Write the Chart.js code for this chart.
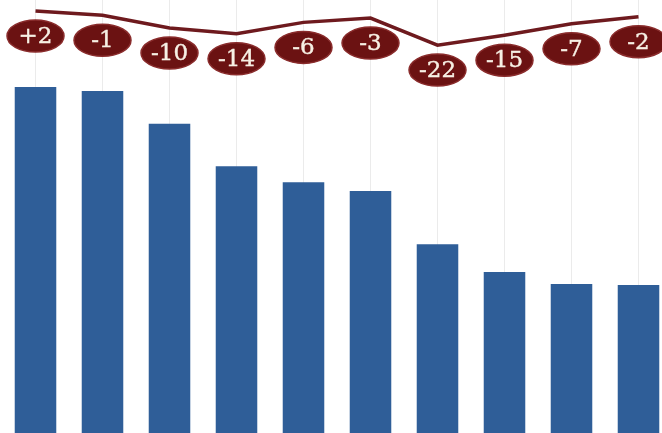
<!DOCTYPE html>
<html>
<head>
<meta charset="utf-8">
<script src="https://cdn.jsdelivr.net/npm/chart.js@4"></script>
<style>
  html, body { margin: 0; padding: 0; background: #fff; overflow: hidden; }
  #wrap { position: relative; width: 674px; height: 433px; }
</style>
</head>
<body>
<div id="wrap"><canvas id="chart"></canvas></div>
<script>
// ----------------------------
// Daten
// ----------------------------
const categories = ['1', '2', '3', '4', '5', '6', '7', '8', '9', '10'];
const barValues = [79.9, 79.0, 71.4, 61.6, 57.9, 55.9, 43.6, 37.2, 34.4, 34.2];
const changeValues = [2, -1, -10, -14, -6, -3, -22, -15, -7, -2];
const changeLabels = ['+2', '-1', '-10', '-14', '-6', '-3', '-22', '-15', '-7', '-2'];

// ----------------------------
// Plugin: ovale Beschriftungen unter der Linie
// ----------------------------
const ovalLabels = {
  id: 'ovalLabels',
  afterDatasetsDraw(chart) {
    const ctx = chart.ctx;
    const meta = chart.getDatasetMeta(1);
    meta.data.forEach((pt, i) => {
      const cx = pt.x;
      const cy = pt.y + 25;
      ctx.save();
      ctx.beginPath();
      ctx.ellipse(cx, cy, 28.5, 16, 0, 0, Math.PI * 2);
      ctx.fillStyle = '#6b1212';
      ctx.fill();
      ctx.lineWidth = 1.5;
      ctx.strokeStyle = '#8a2c2c';
      ctx.stroke();
      ctx.fillStyle = '#f7f0e4';
      ctx.strokeStyle = '#f7f0e4';
      ctx.lineWidth = 0.4;
      ctx.font = '23px "DejaVu Serif"';
      ctx.textAlign = 'center';
      ctx.textBaseline = 'middle';
      ctx.fillText(changeLabels[i], cx, cy + 1);
      ctx.strokeText(changeLabels[i], cx, cy + 1);
      ctx.restore();
    });
  }
};

new Chart(document.getElementById('chart'), {
  type: 'bar',
  data: {
    labels: categories,
    datasets: [
      {
        type: 'bar',
        data: barValues,
        backgroundColor: '#2f5e98',
        borderWidth: 0,
        barPercentage: 0.62,
        categoryPercentage: 1,
        yAxisID: 'y',
        order: 2
      },
      {
        type: 'line',
        data: changeValues,
        borderColor: '#6e1a1e',
        borderWidth: 3.5,
        pointRadius: 0,
        tension: 0,
        fill: false,
        yAxisID: 'y2',
        order: 1
      }
    ]
  },
  options: {
    responsive: true,
    maintainAspectRatio: false,
    animation: false,
    layout: { padding: { left: 2, right: 2, top: 0, bottom: 0 } },
    plugins: {
      legend: { display: false },
      tooltip: { enabled: false }
    },
    scales: {
      x: {
        display: true,
        border: { display: false },
        ticks: { display: false },
        grid: {
          offset: false,
          color: 'rgba(0,0,0,0.08)',
          lineWidth: 1,
          drawTicks: false
        }
      },
      y: {
        display: false,
        min: 0,
        max: 100
      },
      y2: {
        display: false,
        min: -295,
        max: 9.75
      }
    }
  },
  plugins: [ovalLabels]
});
</script>
</body>
</html>
